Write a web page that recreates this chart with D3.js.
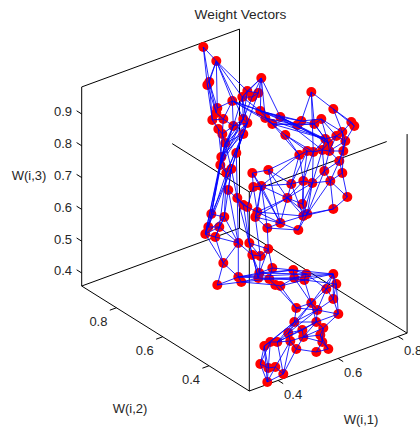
<!DOCTYPE html>
<html>
<head>
<meta charset="utf-8">
<script src="https://cdn.jsdelivr.net/npm/d3@7"></script>
<style>
  body { margin: 0; background: #fff; }
  text { font-family: "Liberation Sans", Arial, sans-serif; font-size: 13px; fill: #262626; }
</style>
</head>
<body>
<div id="chart"></div>
<script>
// Neuron positions, in the view plane of the 3D plot
const viewH = [-.46,-.33,-.40,-.42,.12,-.17,-.02,.03,.09,-.07,.11,.16,.31,.23,.36,-.32,-.33,-.37,-.26,-.31,-.27,-.16,-.06,-.02,-.06,-.24,-.13,-.28,-.29,-.18,-.23,
  .62,.84,1.02,1.05,.52,.48,.72,.65,.93,.87,.96,.79,.76,.94,.80,.73,.64,.58,.50,.90,
  .75,.93,.81,.63,.54,.42,.19,.03,.04,.12,.38,.53,.58,.54,.84,.98,.08,.06,-.02,-.12,-.21,-.06,.31,.18,.49,
  -.25,-.38,-.41,-.30,-.44,-.34,-.11,0,.19,.11,.03,-.26,-.32,-.11,-.08,.09,.10,.23,.44,.20,.45,.57,.55,.84,.87,.77,.84,.26,.31,
  .47,.62,.68,.89,.45,.67,.74,.71,.54,.53,.39,.41,.47,.73,.79,.67,.28,.21,.15,.11,.19,.26,.34,.18];
const viewV = [3.44,3.30,3.09,3.06,3.13,2.90,3.00,2.94,2.98,2.94,2.80,2.73,2.74,2.67,2.56,2.83,2.78,2.71,2.72,2.62,2.57,2.65,2.72,2.68,2.57,2.48,2.38,2.34,2.26,2.22,2.18,
  2.99,2.82,2.69,2.65,2.70,2.66,2.72,2.67,2.59,2.55,2.50,2.48,2.52,2.40,2.40,2.41,2.39,2.40,2.36,2.30,
  2.20,2.18,2.10,2.08,2.10,2.07,2.21,2.18,2.04,2.05,1.93,1.87,1.77,1.75,1.82,1.94,1.79,1.74,1.84,1.93,2.01,1.86,1.68,1.63,1.61,
  1.74,1.77,1.64,1.64,1.57,1.54,1.48,1.48,1.42,1.35,1.36,1.28,1.06,1.14,1.09,1.13,1.18,1.23,1.21,1.12,1.13,1.17,1.11,1.17,1.07,1.02,.92,1.06,1.05,
  .83,.88,.81,.77,.69,.69,.63,.56,.54,.61,.58,.50,.42,.49,.42,.39,.49,.49,.45,.27,.23,.24,.17,.09];

// Neighbour links between neurons
const links = [
  [0,1],[0,2],[0,3],[1,2],[1,3],[1,5],[1,9],[1,6],[1,22],[1,15],[4,6],[4,7],[4,8],[4,9],[4,10],[4,11],[4,12],
  [5,10],[5,11],[5,12],[5,13],[9,10],[6,9],[7,9],[6,8],[7,8],[6,22],[7,22],[8,23],[9,22],[9,23],
  [2,15],[3,16],[3,17],[2,16],[2,17],[15,16],[16,18],[17,19],[17,18],[18,21],[19,20],[18,20],[20,21],[21,22],[21,23],[22,23],[23,24],
  [20,25],[21,25],[22,25],[23,25],[24,25],[23,26],[24,26],[25,27],[25,28],[26,29],[25,29],[27,28],[27,30],[28,30],[29,30],[21,27],[24,29],[23,30],[20,28],[19,27],
  [5,15],[5,18],[5,21],[9,21],[23,28],[24,27],[24,30],[22,27],[22,28],[21,28],[23,27],
  [10,12],[10,13],[11,13],[11,14],[10,36],[11,36],[12,35],[12,36],[13,36],[13,43],[12,42],[13,38],[11,43],[14,47],[14,48],[13,49],[14,49],[12,46],[12,43],[10,35],[10,43],
  [35,36],[35,38],[36,38],[37,38],[35,37],[31,35],[31,38],[31,32],[31,47],[32,33],[32,34],[32,39],[33,34],[33,39],[34,41],[37,39],[37,42],[38,42],[38,43],[36,42],
  [37,40],[39,40],[39,41],[40,41],[40,42],[40,43],[42,43],[42,45],[41,44],[39,44],[44,45],[45,46],[46,47],[47,48],[48,49],[42,46],[43,46],[41,45],[40,45],[44,50],[41,50],[45,50],[43,47],
  [49,57],[49,60],[49,56],[49,55],[48,56],[48,55],[47,54],[47,55],[46,54],[46,51],[45,51],[44,52],[50,52],[50,53],[50,51],[51,53],[51,54],[52,53],[52,66],[53,66],[53,54],[54,55],[55,56],[56,60],
  [57,58],[57,56],[58,59],[58,60],[59,60],[57,61],[56,61],[55,61],[55,62],[54,63],[53,63],[54,64],[61,62],[61,64],[62,63],[63,64],[63,65],[64,65],[65,66],[53,65],[60,61],[60,67],[59,67],
  [60,68],[61,68],[61,67],[67,68],[67,73],[68,73],[68,74],[73,74],[74,75],[73,75],[64,73],[63,75],[64,75],[61,73],[59,69],[51,63],[54,62],[54,61],[56,64],[55,64],[60,73],[60,74],[57,73],[58,73],[61,63],[67,64],
  [27,77],[28,77],[30,76],[29,76],[30,78],[28,80],[27,80],[29,78],[26,70],[29,70],[29,71],[70,72],[72,69],[69,67],[70,69],[71,72],[71,82],[70,82],[25,77],[29,77],[30,79],
  [76,77],[76,79],[76,81],[77,78],[78,79],[78,80],[79,80],[80,81],[79,81],[77,80],[76,80],[81,87],[80,87],[81,82],[79,82],[82,87],[82,89],[87,88],[87,89],[88,89],[88,90],[89,90],[76,82],
  [72,83],[69,83],[70,83],[83,84],[83,86],[83,85],[82,86],[84,85],[84,93],[85,86],[85,92],[86,92],[84,92],[86,91],[83,91],[68,85],[74,84],
  [89,91],[89,92],[90,95],[90,91],[89,94],[89,97],[91,92],[91,95],[92,93],[92,94],[93,94],[93,95],[94,97],[94,96],[95,96],[95,98],[96,97],[96,98],[97,98],[91,96],[92,97],[97,99],[98,99],[96,99],[94,99],
  [98,100],[99,100],[99,101],[100,101],[100,102],[101,102],[97,101],[103,104],[103,95],[104,96],[104,98],[90,103],[104,105],[103,105],[98,106],[96,106],[99,106],[101,106],[100,108],[102,108],[99,102],
  [105,106],[105,107],[106,107],[101,107],[102,107],[107,108],[108,110],[105,109],[106,109],[106,110],[107,109],[107,110],[109,110],[110,111],[111,112],[112,118],[108,111],
  [109,114],[109,115],[110,114],[110,113],[111,113],[112,113],[113,114],[114,115],[115,116],[116,117],[113,116],[113,117],[113,118],[114,121],[115,121],[109,121],[109,122],[109,123],[110,121],[107,115],[106,115],
  [118,119],[118,120],[119,120],[117,120],[112,119],[111,118],[116,121],[121,122],[122,123],[117,127],[116,126],[121,127],[122,125],[123,124],[123,125],[124,125],[124,128],[125,126],[125,128],[126,127],[126,128],[127,128],[123,128],[122,124],[116,127]
];

// Axis limits and tick values
const w1Lim = [0.304, 0.83];
const w2Lim = [0.226, 0.95];
const w3Lim = [0.359, 0.985];
const w1Ticks = [0.4, 0.6, 0.8];
const w2Ticks = [0.4, 0.6, 0.8];
const w3Ticks = [0.4, 0.5, 0.6, 0.7, 0.8, 0.9];

const width = 420;
const height = 429;

const svg = d3
  .select("#chart")
  .append("svg")
  .attr("width", width)
  .attr("height", height)
  .style("display", "block");

// View plane scales (1 view unit = 100px)
const xView = d3.scaleLinear().domain([0, 1]).range([249.3, 349.3]);
const yView = d3.scaleLinear().domain([0, 1]).range([391, 291]);

// Oblique projection of W(i,1), W(i,2), W(i,3) on the view plane
function project(w1, w2, w3) {
  const a = w1 - w1Lim[0];
  const b = w2 - w2Lim[0];
  const c = w3 - w3Lim[0];
  return [xView(3.0 * a - 2.315 * b), yView(1.1 * a + 1.45 * b + 3.18 * c)];
}

const [x1, x2] = w1Lim;
const [y1, y2] = w2Lim;
const [z1, z2] = w3Lim;

// Box edges, the two upper front ones stop short like in the original
const backEdges = [
  [[x1, y2, z1], [x1, y2, z2]],
  [[x1, y2, z2], [x2, y2, z2]],
  [[x2, y2, z1], [x2, y2, z2]],
  [[x2, y1, z1], [x2, y1, z2]],
  [[x1, y2, z1], [x2, y2, z1]],
  [[x2, y2, z1], [x2, y1, z1]],
  [[x1, y1, z2], [x1, 0.559, z2]],
  [[x1, y1, z2], [0.762, y1, z2]],
  [[x1, y2, z1], [x1, y1, z1]],
  [[x1, y1, z1], [x2, y1, z1]]
];

function drawSegment(g, a, b, strokeWidth) {
  const p = project(...a);
  const q = project(...b);
  g.append("line")
    .attr("x1", p[0])
    .attr("y1", p[1])
    .attr("x2", q[0])
    .attr("y2", q[1])
    .attr("stroke", "#000")
    .attr("stroke-width", strokeWidth);
}

const box = svg.append("g");
backEdges.forEach((e) => drawSegment(box, e[0], e[1], 1));

// Tick marks point away from the box
const tickLen = 0.022;
const ticks = svg.append("g");
w1Ticks.forEach((t) => drawSegment(ticks, [t, y1, z1], [t, y1 - tickLen, z1], 1));
w2Ticks.forEach((t) => drawSegment(ticks, [x1 - tickLen, t, z1], [x1, t, z1], 1));
w3Ticks.forEach((t) => drawSegment(ticks, [x1, y2, t], [x1, y2 + tickLen, t], 1));

// Markers first, blue links run over them
svg
  .append("g")
  .selectAll("circle")
  .data(viewH)
  .join("circle")
  .attr("cx", (d) => xView(d))
  .attr("cy", (d, i) => yView(viewV[i]))
  .attr("r", 5)
  .attr("fill", "#ff0000");

svg
  .append("g")
  .selectAll("line")
  .data(links)
  .join("line")
  .attr("x1", (d) => xView(viewH[d[0]]))
  .attr("y1", (d) => yView(viewV[d[0]]))
  .attr("x2", (d) => xView(viewH[d[1]]))
  .attr("y2", (d) => yView(viewV[d[1]]))
  .attr("stroke", "#0000ff")
  .attr("stroke-width", 0.85);

// Front vertical edge
drawSegment(box, [x1, y1, z1], [x1, y1, z2], 1);

// Tick labels
const fmt = d3.format(".1f");
const labels = svg.append("g");
w1Ticks.forEach((t) => {
  const p = project(t, y1, z1);
  labels.append("text").attr("x", p[0] + 15).attr("y", p[1] + 18.5).style("text-anchor", "middle").text(fmt(t));
});
w2Ticks.forEach((t) => {
  const p = project(x1, t, z1);
  labels.append("text").attr("x", p[0] - 18).attr("y", p[1] + 18).style("text-anchor", "middle").text(fmt(t));
});
w3Ticks.forEach((t) => {
  const p = project(x1, y2, t);
  labels.append("text").attr("x", 72).attr("y", p[1] + 2.5).style("text-anchor", "end").text(fmt(t));
});

// Title and axis labels
svg.append("text").attr("x", 240.5).attr("y", 19).style("text-anchor", "middle").style("font-size", "13.7px").text("Weight Vectors");
svg.append("text").attr("x", 130).attr("y", 412.5).style("text-anchor", "middle").text("W(i,2)");
svg.append("text").attr("x", 361).attr("y", 423.5).style("text-anchor", "middle").text("W(i,1)");
svg.append("text").attr("x", 29).attr("y", 179.5).style("text-anchor", "middle").text("W(i,3)");
</script>
</body>
</html>
